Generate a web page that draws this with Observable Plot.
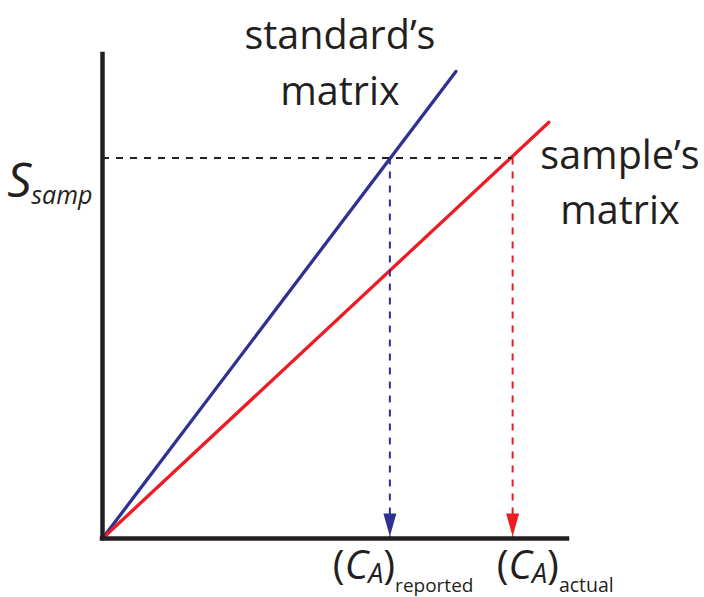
<!DOCTYPE html>
<html><head><meta charset="utf-8">
<script src="https://cdn.jsdelivr.net/npm/d3@7"></script>
<script src="https://cdn.jsdelivr.net/npm/@observablehq/plot@0.6"></script>
<style>html,body{margin:0;padding:0;background:#fff} #chart svg{display:block}</style>
</head><body><div id="chart"></div>
<script>
// ---- data ----
const seriesNames = ["standard", "sample"];
const seriesColors = ["#2e3192", "#ed1c24"];
const standardLine = [[0, 0], [76, 96.5]];
const sampleLine = [[0, 0], [96, 86]];
const sSamp = 78.6;
const concReported = 61.8;
const concActual = 88.2;
const seriesLabels = ["standard’s\nmatrix", "sample’s\nmatrix"];
const yLabel = "S_samp";
const xLabels = ["(C_A)_reported", "(C_A)_actual"];

// ---- derived tables ----
const lines = [
  ...standardLine.map(([x, y]) => ({x, y, s: seriesNames[0], c: seriesColors[0]})),
  ...sampleLine.map(([x, y]) => ({x, y, s: seriesNames[1], c: seriesColors[1]}))
];
const drops = [
  {x: concReported, c: seriesColors[0], label: xLabels[0]},
  {x: concActual, c: seriesColors[1], label: xLabels[1]}
];
const ink = "#231f20";
const font = "'Open Sans', 'Noto Sans', sans-serif";

// rich text (subscripts / italics) applied after rendering
const richText = {
  [yLabel]: [["S", 48, "italic", 0], ["samp", 25, "italic", 7]],
  [xLabels[0]]: [["(", 40, "normal", 0], ["C", 40, "italic", 0], ["A", 27, "italic", 4], [")", 40, "normal", 0], ["reported", 19, "normal", 13]],
  [xLabels[1]]: [["(", 40, "normal", 0], ["C", 40, "italic", 0], ["A", 27, "italic", 4], [")", 40, "normal", 0], ["actual", 19.5, "normal", 13]]
};

// elongated downward arrowhead, tip at the anchor point
const arrowHead = {
  draw(ctx) {
    ctx.moveTo(0, -2);
    ctx.lineTo(-6.5, -25);
    ctx.lineTo(6.5, -25);
    ctx.closePath();
  }
};

const plot = Plot.plot({
  width: 704,
  height: 597,
  marginLeft: 102,
  marginRight: 137,
  marginTop: 54,
  marginBottom: 59,
  x: {domain: [0, 100], axis: null},
  y: {domain: [0, 100], axis: null},
  color: {type: "identity"},
  style: {fontFamily: font, background: "#fff"},
  marks: [
    Plot.line(lines, {x: "x", y: "y", z: "s", stroke: "c", strokeWidth: 3.3}),
    Plot.ruleY([sSamp], {x1: 0, x2: concActual, stroke: ink, strokeWidth: 2, strokeDasharray: "7,7"}),
    Plot.ruleX(drops, {x: "x", y1: sSamp, y2: 0, stroke: "c", strokeWidth: 2, strokeDasharray: "7,7"}),
    Plot.ruleX([0], {stroke: ink, strokeWidth: 4.5, strokeLinecap: "square"}),
    Plot.ruleY([0], {stroke: ink, strokeWidth: 4.5, strokeLinecap: "square"}),
    Plot.dot(drops, {x: "x", y: d => 0, fill: "c", stroke: null, symbol: arrowHead}),
    // series labels anchored at line ends
    Plot.text([standardLine[1]], {x: d => d[0], y: d => d[1], text: () => seriesLabels[0], fontSize: 39.5, lineHeight: 1.42, lineAnchor: "bottom", textAnchor: "middle", dx: -116, dy: 34, fill: ink, fontFamily: font}),
    Plot.text([sampleLine[1]], {x: d => d[0], y: d => d[1], text: () => seriesLabels[1], fontSize: 39.5, lineHeight: 1.4, lineAnchor: "bottom", textAnchor: "middle", dx: 71, dy: 102, fill: ink, fontFamily: font}),
    // y label
    Plot.text([sSamp], {x: d => 0, y: d => d, text: () => yLabel, fontSize: 48, lineAnchor: "bottom", textAnchor: "end", dx: -10, dy: 39, fill: ink, fontFamily: font}),
    // x labels
    Plot.text([drops[0]], {x: "x", y: d => 0, text: "label", fontSize: 40, lineAnchor: "bottom", textAnchor: "start", dx: -57, dy: 40, fill: ink, fontFamily: font}),
    Plot.text([drops[1]], {x: "x", y: d => 0, text: "label", fontSize: 40, lineAnchor: "bottom", textAnchor: "start", dx: -16, dy: 40, fill: ink, fontFamily: font})
  ]
});

d3.select(plot).selectAll("text").each(function () {
  const parts = richText[this.textContent];
  if (!parts) return;
  this.textContent = "";
  let cur = 0;
  for (const [t, size, style, off] of parts) {
    d3.select(this).append("tspan")
      .attr("font-size", size)
      .attr("font-style", style)
      .attr("dy", off - cur)
      .text(t);
    cur = off;
  }
});

document.getElementById("chart").appendChild(plot);
</script>
</body></html>
